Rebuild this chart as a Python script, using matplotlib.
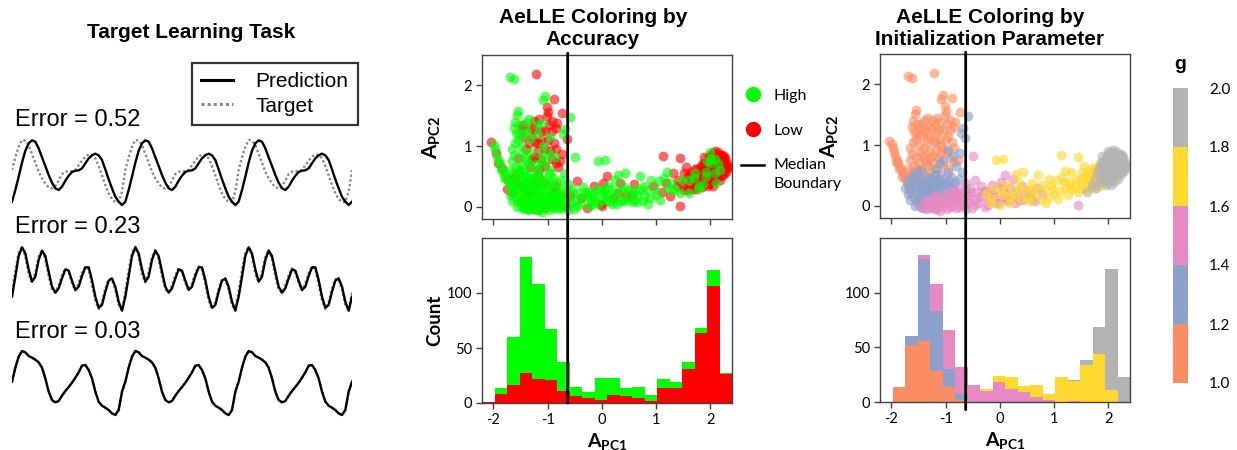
import numpy as np
import matplotlib.pyplot as plt
from matplotlib.colors import ListedColormap, BoundaryNorm
from matplotlib.cm import ScalarMappable
from matplotlib.lines import Line2D
from matplotlib.patches import ConnectionPatch
from matplotlib.legend_handler import HandlerLine2D

plt.rcParams['font.family'] = ['Liberation Sans', 'DejaVu Sans']
plt.rcParams['mathtext.fontset'] = 'custom'
plt.rcParams['mathtext.rm'] = 'Lato'
plt.rcParams['mathtext.bf'] = 'Lato:bold'
plt.rcParams['axes.unicode_minus'] = False

W, H = 1237, 450

# ---- left panel: one period of each trace (34 samples), the signal repeats 3 times
N_PERIODS = 3
pred1_period = [15, 50, 90, 132, 168, 190, 199, 195, 175, 148, 122, 95, 72, 55, 50, 60, 78,
                93, 104, 108, 109, 115, 130, 145, 154, 159, 154, 140, 112, 82, 55, 30, 15, 5]
target1_period = [110, 148, 180, 200, 198, 185, 158, 132, 105, 85, 70, 58, 55, 62, 78, 98, 105,
                  106, 107, 110, 124, 138, 150, 157, 155, 145, 122, 94, 65, 40, 23, 14, 14, 45]
pred2_period = [45, 105, 167, 193, 175, 127, 90, 105, 155, 183, 167, 120, 75, 57, 70, 100, 127,
                123, 93, 65, 75, 107, 133, 133, 95, 45, 12, 20, 60, 93, 100, 75, 30, 3]
target2_period = [62, 125, 178, 195, 165, 112, 88, 118, 165, 185, 158, 105, 66, 58, 80, 110, 130,
                  118, 85, 64, 85, 117, 136, 127, 80, 33, 8, 28, 70, 98, 96, 65, 20, 5]
pred3_period = [105, 147, 180, 197, 193, 182, 177, 171, 163, 147, 115, 75, 50, 43, 47, 63, 77,
                89, 102, 117, 133, 153, 155, 140, 115, 75, 45, 33, 27, 20, 10, 5, 20, 75]
target3_period = pred3_period  # target lies under the prediction at error 0.03
error_labels = ['Error = 0.52', 'Error = 0.23', 'Error = 0.03']

# ---- AeLLE scatter: (A_PC1, A_PC2, high accuracy) grouped by g bin
ORANGE_PTS = [
    (-1.69, 2.14, 1), (-1.62, 2.10, 1), (-1.21, 2.19, 0), (-1.05, 1.82, 1), (-1.08, 1.76, 1),
    (-0.88, 1.77, 0), (-1.54, 1.58, 1), (-1.57, 1.51, 1), (-1.02, 1.64, 0), (-0.99, 1.56, 0),
    (-1.01, 1.49, 0), (-0.74, 1.55, 0),
    (-2.04, 1.07, 0), (-1.99, 1.02, 1), (-1.97, 0.96, 1), (-1.95, 0.88, 0), (-1.93, 0.82, 1),
    (-1.90, 0.76, 1), (-1.87, 0.70, 1), (-1.84, 0.64, 0), (-1.81, 0.58, 1), (-1.78, 0.52, 1),
    (-1.75, 0.46, 0), (-1.72, 0.40, 1), (-1.69, 0.35, 1), (-1.92, 0.72, 0), (-1.86, 0.60, 1),
    (-1.80, 0.48, 1), (-1.66, 0.30, 1),
    (-1.62, 1.30, 1), (-1.58, 1.22, 1), (-1.52, 1.35, 1), (-1.48, 1.28, 0), (-1.55, 1.10, 1),
    (-1.60, 1.05, 1), (-1.65, 0.95, 1), (-1.50, 1.00, 1), (-1.45, 1.15, 0), (-1.40, 1.40, 1),
    (-1.35, 1.45, 1), (-1.42, 1.22, 1), (-1.62, 0.85, 1), (-1.55, 0.80, 0), (-1.48, 0.88, 1),
    (-1.40, 0.95, 0), (-1.58, 0.65, 1), (-1.50, 0.70, 1), (-1.45, 0.60, 1), (-1.62, 0.55, 1),
    (-1.55, 0.50, 1), (-1.38, 0.75, 1), (-1.35, 1.05, 0),
    (-1.30, 1.30, 0), (-1.25, 1.42, 0), (-1.20, 1.35, 1), (-1.15, 1.45, 0), (-1.10, 1.38, 1),
    (-1.28, 1.15, 0), (-1.22, 1.05, 0), (-1.18, 1.20, 1), (-1.12, 1.10, 0), (-1.05, 1.25, 0),
    (-0.98, 1.35, 0), (-0.92, 1.42, 0), (-0.85, 1.30, 0), (-0.82, 1.38, 0), (-0.95, 1.15, 1),
    (-0.88, 1.05, 0), (-1.30, 0.90, 1), (-1.25, 0.82, 0), (-1.18, 0.92, 0), (-1.10, 0.85, 1),
    (-1.05, 0.95, 0), (-0.98, 0.88, 1), (-0.92, 0.78, 0), (-0.85, 0.72, 0), (-0.78, 0.75, 0),
    (-1.32, 0.65, 0), (-1.22, 0.70, 1), (-1.15, 0.62, 0), (-1.05, 0.68, 0), (-0.95, 0.60, 1),
    (-1.28, 0.55, 1), (-1.40, 0.50, 1), (-1.48, 0.42, 1), (-1.35, 0.38, 0), (-1.58, 0.40, 0),
    (-1.60, 1.40, 1), (-1.52, 1.18, 1), (-1.45, 1.35, 0), (-1.38, 1.25, 1), (-1.32, 1.12, 1),
    (-1.25, 1.28, 0), (-1.18, 1.05, 0), (-1.12, 1.25, 0), (-1.08, 1.00, 1), (-1.00, 1.10, 0),
    (-0.92, 1.25, 0), (-0.85, 0.95, 0), (-1.42, 0.82, 1), (-1.35, 0.70, 1), (-1.28, 0.78, 0),
    (-1.20, 0.50, 1), (-1.52, 0.60, 1), (-1.65, 0.75, 1), (-1.70, 0.60, 1), (-1.12, 0.78, 0),
]
BLUE_PTS = [
    (-0.59, 1.48, 1), (-0.68, 1.28, 1), (-0.71, 1.20, 1), (-0.65, 1.11, 0), (-0.74, 0.87, 0),
    (-0.87, 0.82, 1), (-0.96, 0.92, 0), (-1.05, 0.76, 1), (-1.10, 0.70, 1), (-0.80, 0.65, 0),
    (-0.70, 0.55, 1), (-0.75, 0.45, 1),
    (-1.72, 0.42, 1), (-1.68, 0.30, 1), (-1.65, 0.22, 0), (-1.62, 0.35, 1), (-1.60, 0.15, 1),
    (-1.58, 0.28, 1), (-1.55, 0.08, 1), (-1.55, 0.42, 1), (-1.52, 0.20, 1), (-1.50, 0.02, 1),
    (-1.48, 0.32, 0), (-1.47, 0.12, 1), (-1.45, 0.45, 1), (-1.43, 0.25, 1), (-1.42, 0.05, 0),
    (-1.40, 0.18, 1), (-1.38, 0.38, 1), (-1.37, -0.03, 1), (-1.35, 0.10, 1), (-1.33, 0.28, 1),
    (-1.32, 0.48, 1), (-1.30, 0.02, 1), (-1.28, 0.20, 0), (-1.27, 0.35, 1), (-1.25, 0.08, 1),
    (-1.23, 0.42, 1), (-1.22, 0.15, 1), (-1.20, 0.28, 1), (-1.18, -0.02, 1), (-1.17, 0.50, 0),
    (-1.15, 0.10, 1), (-1.13, 0.22, 1), (-1.12, 0.38, 1), (-1.10, 0.04, 0), (-1.08, 0.30, 1),
    (-1.05, 0.15, 1), (-1.03, 0.45, 1), (-1.00, 0.25, 1), (-0.98, 0.05, 1), (-0.95, 0.35, 1),
    (-0.92, 0.18, 0), (-0.90, 0.48, 1), (-0.88, 0.30, 1), (-0.85, 0.10, 1), (-0.82, 0.40, 1),
    (-0.78, 0.22, 1), (-1.60, 0.50, 0), (-1.53, 0.55, 1), (-1.45, 0.58, 1), (-1.40, 0.02, 1),
    (-1.35, 0.32, 1), (-1.48, 0.22, 1), (-1.28, 0.45, 1), (-1.20, 0.60, 1), (-1.10, 0.52, 1),
    (-0.95, 0.55, 1),
    (-1.66, 0.10, 1), (-1.63, 0.45, 1), (-1.57, 0.00, 1), (-1.53, 0.32, 1), (-1.50, 0.12, 0),
    (-1.46, 0.38, 1), (-1.44, -0.04, 1), (-1.41, 0.30, 1), (-1.39, 0.12, 1), (-1.36, 0.22, 0),
    (-1.34, 0.42, 1), (-1.31, 0.15, 1), (-1.29, 0.30, 1), (-1.26, 0.00, 1), (-1.24, 0.25, 1),
    (-1.21, 0.38, 0), (-1.19, 0.08, 1), (-1.16, 0.32, 1), (-1.14, 0.45, 1), (-1.11, 0.18, 1),
    (-1.07, 0.40, 0), (-1.04, 0.05, 1), (-1.01, 0.35, 1), (-0.97, 0.18, 1), (-0.93, 0.42, 1),
    (-0.89, 0.12, 1), (-0.86, 0.35, 0), (-0.83, 0.20, 1), (-1.70, 0.20, 1), (-1.74, 0.30, 0),
]
PINK_PTS = [
    (-1.45, -0.02, 1), (-1.40, 0.08, 1), (-1.35, -0.05, 1), (-1.30, 0.12, 1), (-1.25, -0.03, 0),
    (-1.22, 0.05, 1), (-1.18, 0.18, 1), (-1.15, -0.05, 1), (-1.12, 0.08, 1), (-1.08, 0.15, 1),
    (-1.05, -0.02, 0), (-1.02, 0.10, 1), (-1.00, 0.20, 1), (-0.97, -0.06, 1), (-0.95, 0.05, 1),
    (-0.93, 0.15, 1), (-0.90, 0.25, 0), (-0.88, 0.00, 1), (-0.85, 0.12, 1), (-0.83, 0.22, 1),
    (-0.80, -0.04, 1), (-0.78, 0.08, 1), (-0.75, 0.18, 0), (-0.73, 0.30, 1), (-0.70, 0.02, 1),
    (-0.68, 0.12, 1), (-0.65, 0.25, 1), (-0.63, 0.38, 1), (-0.60, 0.05, 1), (-0.58, 0.18, 0),
    (-0.55, 0.30, 1), (-0.52, -0.03, 1), (-0.50, 0.82, 1), (-0.48, 0.12, 1), (-0.45, 0.42, 0),
    (-0.42, 0.22, 1), (-0.40, 0.05, 1), (-0.35, 0.32, 1), (-0.32, 0.15, 1), (-0.28, -0.02, 0),
    (-0.25, 0.25, 1), (-0.20, 0.10, 1), (-0.15, 0.35, 0), (-0.12, 0.18, 1), (-0.08, 0.05, 1),
    (-0.05, 0.28, 1), (0.00, 0.12, 1), (0.03, 0.40, 0), (0.08, 0.20, 1), (0.10, 0.50, 0),
    (0.15, 0.08, 1), (0.18, 0.30, 1), (0.22, 0.15, 1), (0.25, 0.45, 1), (0.30, 0.22, 0),
    (0.35, 0.10, 1), (0.40, 0.32, 1), (0.45, 0.18, 0), (0.52, 0.25, 1), (0.60, 0.12, 1),
    (0.68, 0.30, 1), (0.78, 0.20, 1), (1.45, 0.02, 0), (-1.10, -0.08, 1), (-0.62, -0.06, 1),
    (-1.32, 0.02, 1), (-1.27, 0.10, 1), (-1.20, -0.06, 1), (-1.13, 0.02, 1), (-1.06, 0.08, 1),
    (-0.99, 0.12, 1), (-0.92, -0.02, 1), (-0.86, 0.06, 0), (-0.81, 0.15, 1), (-0.76, -0.02, 1),
    (-0.71, 0.10, 1), (-0.66, 0.02, 0), (-0.57, 0.10, 1), (-0.53, 0.22, 1), (-0.46, 0.02, 1),
    (-0.38, 0.15, 0), (-0.30, 0.25, 1), (-0.22, 0.02, 1), (-0.18, 0.20, 1), (-0.02, 0.05, 0),
    (0.05, 0.30, 1), (0.12, 0.12, 1), (0.28, 0.05, 1), (0.42, 0.10, 1), (0.55, 0.20, 0),
    (0.65, 0.08, 1),
]
YELLOW_PTS = [
    (-0.25, 0.20, 1), (-0.18, 0.05, 1), (-0.07, 0.75, 1), (0.06, 0.77, 1), (-0.10, 0.30, 1),
    (0.00, 0.02, 0), (0.05, 0.18, 1), (0.12, 0.35, 1), (0.18, 0.05, 1), (0.25, 0.22, 1),
    (0.30, 0.52, 1), (0.33, 0.40, 0), (0.38, 0.12, 1), (0.42, 0.55, 1), (0.48, 0.28, 1),
    (0.55, 0.08, 1), (0.60, 0.38, 0), (0.65, 0.20, 1), (0.70, 0.50, 1), (0.75, 0.10, 1),
    (0.82, 0.28, 1), (0.88, 0.15, 1), (0.95, 0.35, 0), (1.00, 0.20, 1), (1.05, 0.42, 1),
    (1.10, 0.25, 0), (1.13, 0.84, 0), (1.15, 0.48, 1), (1.20, 0.30, 1), (1.25, 0.18, 0),
    (1.28, 0.40, 1), (1.32, 0.55, 0), (1.35, 0.28, 1), (1.40, 0.45, 0), (1.44, 0.80, 0),
    (1.45, 0.22, 1), (1.50, 0.35, 0), (1.52, 0.55, 0), (1.55, 0.65, 0), (1.58, 0.28, 0),
    (1.60, 0.45, 1), (1.63, 0.38, 0), (1.65, 0.58, 0), (1.68, 0.30, 0), (1.70, 0.48, 1),
    (1.72, 0.62, 0), (1.75, 0.40, 0), (1.78, 0.52, 0), (1.80, 0.35, 1), (1.82, 0.68, 0),
    (1.85, 0.45, 0), (1.88, 0.58, 0), (1.90, 0.40, 0), (1.92, 0.50, 1), (1.95, 0.62, 0),
    (1.98, 0.45, 0), (2.02, 0.55, 0), (1.62, 0.52, 0), (1.74, 0.30, 0), (1.85, 0.32, 0),
    (1.55, 0.42, 0), (0.90, 0.45, 1), (1.20, 0.58, 1),
    (-0.15, 0.12, 1), (0.02, 0.25, 1), (0.20, 0.15, 0), (0.35, 0.28, 1), (0.50, 0.15, 1),
    (0.62, 0.28, 1), (0.78, 0.35, 1), (0.85, 0.05, 1), (0.98, 0.28, 1), (1.08, 0.12, 1),
    (1.18, 0.40, 0), (1.30, 0.30, 1), (1.38, 0.35, 0), (1.48, 0.45, 1), (1.52, 0.28, 0),
    (1.58, 0.50, 0), (1.66, 0.45, 0), (1.71, 0.55, 1), (1.76, 0.62, 0), (1.80, 0.45, 0),
    (1.84, 0.55, 0), (1.87, 0.38, 1), (1.90, 0.65, 0), (1.94, 0.55, 0), (1.97, 0.38, 0),
    (2.00, 0.48, 0),
]
GRAY_PTS = [
    (1.60, 0.22, 1), (1.70, 0.35, 0), (1.75, 0.45, 0), (1.80, 0.55, 0), (1.85, 0.40, 0),
    (1.85, 0.65, 0), (1.88, 0.50, 0), (1.90, 0.72, 0), (1.92, 0.58, 1), (1.94, 0.45, 0),
    (1.95, 0.80, 0), (1.97, 0.65, 0), (1.98, 0.52, 0), (2.00, 0.86, 0), (2.00, 0.72, 1),
    (2.02, 0.60, 0), (2.03, 0.45, 0), (2.05, 0.80, 0), (2.05, 0.88, 0), (2.07, 0.68, 0),
    (2.08, 0.55, 1), (2.10, 0.85, 0), (2.10, 0.75, 0), (2.12, 0.62, 0), (2.12, 0.48, 0),
    (2.14, 0.80, 0), (2.15, 0.70, 1), (2.16, 0.56, 0), (2.18, 0.86, 0), (2.18, 0.65, 0),
    (2.20, 0.75, 0), (2.20, 0.50, 0), (2.22, 0.82, 0), (2.23, 0.60, 0), (2.24, 0.70, 0),
    (2.25, 0.55, 0), (2.26, 0.78, 0), (2.27, 0.64, 0), (2.28, 0.72, 0), (2.29, 0.58, 0),
    (2.30, 0.68, 0), (1.95, 0.35, 0), (2.05, 0.35, 0), (1.78, 0.30, 1), (2.00, 0.90, 1),
    (2.08, 0.92, 0), (2.15, 0.90, 0), (1.88, 0.82, 0), (2.06, 0.50, 0), (2.18, 0.45, 0),
    (1.92, 0.68, 0), (2.02, 0.78, 1),
    (1.82, 0.60, 0), (1.86, 0.72, 0), (1.89, 0.45, 0), (1.91, 0.62, 0), (1.93, 0.75, 1),
    (1.96, 0.58, 0), (1.98, 0.70, 0), (1.99, 0.82, 0), (2.01, 0.65, 0), (2.03, 0.72, 0),
    (2.04, 0.58, 0), (2.06, 0.85, 0), (2.07, 0.62, 0), (2.09, 0.78, 1), (2.11, 0.70, 0),
    (2.11, 0.56, 0), (2.13, 0.86, 0), (2.14, 0.65, 0), (2.16, 0.78, 0), (2.17, 0.60, 1),
    (2.19, 0.72, 0), (2.21, 0.62, 0), (2.21, 0.86, 0), (2.23, 0.76, 0), (2.24, 0.52, 0),
    (2.26, 0.66, 0), (2.28, 0.80, 0), (2.30, 0.62, 0), (2.31, 0.72, 0), (2.32, 0.66, 0),
    (2.25, 0.84, 0), (2.15, 0.52, 0), (2.05, 0.42, 0), (2.10, 0.40, 1), (1.98, 0.40, 0),
]

# ---- histograms of A_PC1 (20 bins)
BIN_EDGES = np.linspace(-2.21, 2.40, 21)
ACC_LOW = [1, 8, 16, 27, 22, 21, 11, 6, 5, 3, 7, 6, 5, 2, 14, 14, 31, 64, 106, 26]
ACC_HIGH = [0, 6, 44, 106, 86, 46, 26, 9, 5, 20, 16, 8, 10, 5, 8, 5, 6, 4, 15, 1]
G_ORANGE = [0, 14, 52, 56, 28, 14, 2, 0, 0, 0, 0, 0, 0, 0, 0, 0, 0, 0, 0, 0]
G_BLUE = [0, 0, 8, 75, 55, 16, 5, 0, 0, 0, 0, 0, 0, 0, 0, 0, 0, 0, 0, 0]
G_PINK = [0, 0, 0, 3, 25, 36, 25, 16, 10, 18, 12, 9, 5, 2, 0, 1, 0, 0, 0, 0]
G_YELLOW = [0, 0, 0, 0, 0, 0, 0, 0, 2, 6, 11, 6, 11, 5, 23, 18, 34, 44, 11, 0]
G_GRAY = [0, 0, 0, 0, 0, 0, 0, 0, 0, 0, 0, 0, 0, 0, 0, 1, 4, 25, 111, 23]
MEDIAN_PC1 = -0.63

G_BOUNDS = [1.0, 1.2, 1.4, 1.6, 1.8, 2.0]
G_COLORS = ['#fc8d62', '#8da0cb', '#e78ac3', '#ffd92f', '#b3b3b3']
GREEN, RED = '#00ff00', '#ff0000'
TARGET_GRAY = '#8a8a8a'
TICK_FONT = 'Lato'


class RaisedLineHandler(HandlerLine2D):
    """Line handle drawn at the height of the first line of a two-line label."""

    def create_artists(self, legend, orig_handle, xdescent, ydescent, width, height,
                       fontsize, trans):
        artists = super().create_artists(legend, orig_handle, xdescent, ydescent, width,
                                         height, fontsize, trans)
        for a in artists:
            if isinstance(a, Line2D):
                a.set_ydata(np.asarray(a.get_ydata()) + 0.62 * fontsize)
        return artists


def box(l, t, r, b):
    return [l / W, 1 - b / H, (r - l) / W, (b - t) / H]


def tile(period):
    return np.array(period * N_PERIODS + period[:1])


fig = plt.figure(figsize=(W / 100, H / 100), dpi=100)

# ---------------- left panel
fig.text(191 / W, 1 - 33 / H, 'Target Learning Task', ha='center', va='center',
         fontsize=15, fontweight='bold')
traces = [(pred1_period, target1_period, (12, 130, 352, 206.7), 230, 119.5),
          (pred2_period, target2_period, (12, 240, 352, 311.7), 215, 226.7),
          (pred3_period, target3_period, (12, 345, 352, 416.7), 215, 331.7)]
for (pred, targ, rect, top, ytxt), lab in zip(traces, error_labels):
    ax = fig.add_axes(box(*rect))
    p, t = tile(pred), tile(targ)
    ax.plot(np.arange(len(t)), t, color=TARGET_GRAY, lw=1.7, ls=(0, (1, 1)))
    ax.plot(np.arange(len(p)), p, color='black', lw=1.7)
    ax.set_xlim(0, len(p) - 1)
    ax.set_ylim(0, top)
    ax.axis('off')
    fig.text(15 / W, 1 - ytxt / H, lab, ha='left', va='center', fontsize=17)

leg = fig.legend([Line2D([], [], color='black', lw=2.2),
                  Line2D([], [], color=TARGET_GRAY, lw=2.2, ls=(0, (1, 1)))],
                 ['Prediction', 'Target'], loc='upper right',
                 bbox_to_anchor=(358 / W, 1 - 63 / H), frameon=True, fancybox=False,
                 edgecolor='black', fontsize=15, handlelength=1.5, borderaxespad=0,
                 borderpad=0.45, labelspacing=0.25, handletextpad=1.1)
leg.get_frame().set_linewidth(1.6)

# ---------------- AeLLE panels
ax_s1 = fig.add_axes(box(482, 55, 732, 219))
ax_h1 = fig.add_axes(box(482, 238, 732, 403))
ax_s2 = fig.add_axes(box(880, 54, 1130, 218))
ax_h2 = fig.add_axes(box(880, 238, 1130, 402))

groups = [ORANGE_PTS, BLUE_PTS, PINK_PTS, YELLOW_PTS, GRAY_PTS]
pts = np.array([p for g in groups for p in g])
pc1, pc2, high = pts[:, 0], pts[:, 1], pts[:, 2]
for flag, col in [(0, RED), (1, GREEN)]:
    m = high == flag
    ax_s1.scatter(pc1[m], pc2[m], s=50, color=col, alpha=0.6, linewidths=0)
for g, col in zip(groups, G_COLORS):
    a = np.array(g)
    ax_s2.scatter(a[:, 0], a[:, 1], s=50, color=col, alpha=0.62, linewidths=0)

widths = np.diff(BIN_EDGES)
left = BIN_EDGES[:-1]
ax_h1.bar(left, ACC_LOW, width=widths, align='edge', color=RED, linewidth=0)
ax_h1.bar(left, ACC_HIGH, width=widths, align='edge', bottom=ACC_LOW, color=GREEN, linewidth=0)
bottom = np.zeros(len(left))
for counts, col in zip([G_ORANGE, G_BLUE, G_PINK, G_YELLOW, G_GRAY], G_COLORS):
    ax_h2.bar(left, counts, width=widths, align='edge', bottom=bottom, color=col, linewidth=0)
    bottom += np.array(counts)

xt = [-2, -1, 0, 1, 2]
for ax in [ax_s1, ax_s2, ax_h1, ax_h2]:
    ax.set_xlim(BIN_EDGES[0], BIN_EDGES[-1])
    ax.set_xticks(xt)
    for sp in ax.spines.values():
        sp.set_color('#444444')
        sp.set_linewidth(1.0)
    ax.tick_params(color='#444444', length=4, width=1, labelsize=10.5, pad=3)
    for lab in ax.get_xticklabels() + ax.get_yticklabels():
        lab.set_family(TICK_FONT)
for ax in [ax_s1, ax_s2]:
    ax.set_ylim(-0.2, 2.5)
    ax.set_yticks([0, 1, 2])
    ax.set_xticklabels([])
    ax.set_ylabel(r'$\mathbf{A_{PC2}}$', fontsize=15)
    ax.yaxis.set_label_coords(-0.155, 0.5)
for ax in [ax_h1, ax_h2]:
    ax.set_ylim(0, 150)
    ax.set_yticks([0, 50, 100])
    ax.set_xticklabels([str(v) for v in xt], family=TICK_FONT)
    ax.set_xlabel(r'$\mathbf{A_{PC1}}$', fontsize=14)
    ax.xaxis.set_label_coords(0.5, -0.17)
ax_h1.set_ylabel('Count', fontsize=13.5, fontweight='bold', family=TICK_FONT)
ax_h1.yaxis.set_label_coords(-0.155, 0.5)

# median boundary running through scatter and histogram
for ax_top, ax_bot, y_end in [(ax_s1, ax_h1, 0), (ax_s2, ax_h2, -7)]:
    con = ConnectionPatch(xyA=(MEDIAN_PC1, 2.53), coordsA=ax_top.transData,
                          xyB=(MEDIAN_PC1, y_end), coordsB=ax_bot.transData,
                          color='black', lw=2)
    fig.add_artist(con)

fig.text(593 / W, 1 - 28.5 / H, 'AeLLE Coloring by\nAccuracy', ha='center', va='center',
         fontsize=15, fontweight='bold', linespacing=1.15)
fig.text(990 / W, 1 - 28.5 / H, 'AeLLE Coloring by\nInitialization Parameter', ha='center',
         va='center', fontsize=15, fontweight='bold', linespacing=1.15)

median_handle = Line2D([], [], color='black', lw=1.8)
leg2 = fig.legend([Line2D([], [], marker='o', ls='', color=GREEN, markersize=10),
                   Line2D([], [], marker='o', ls='', color=RED, markersize=10),
                   median_handle],
                  ['High', 'Low', 'Median\nBoundary'], loc='upper left',
                  bbox_to_anchor=(735 / W, 1 - 82 / H), frameon=False,
                  prop={'family': TICK_FONT, 'size': 11.5}, handlelength=1.4,
                  handletextpad=0.6, labelspacing=1.3, borderaxespad=0,
                  handler_map={median_handle: RaisedLineHandler()})
leg2.get_texts()[2].set_linespacing(1.45)

# colorbar for g
cax = fig.add_axes(box(1173, 88, 1188, 383))
cmap = ListedColormap(G_COLORS)
norm = BoundaryNorm(G_BOUNDS, cmap.N)
cb = fig.colorbar(ScalarMappable(norm=norm, cmap=cmap), cax=cax, ticks=G_BOUNDS)
cb.outline.set_visible(False)
cb.set_ticklabels([f'{v:.1f}' for v in G_BOUNDS])
cax.tick_params(length=0, pad=15, labelsize=11)
for lab in cax.get_yticklabels():
    lab.set_family(TICK_FONT)
fig.text(1180 / W, 1 - 65 / H, 'g', ha='center', va='center', fontsize=14, fontweight='bold')

fig.savefig('out.png', dpi=100)
